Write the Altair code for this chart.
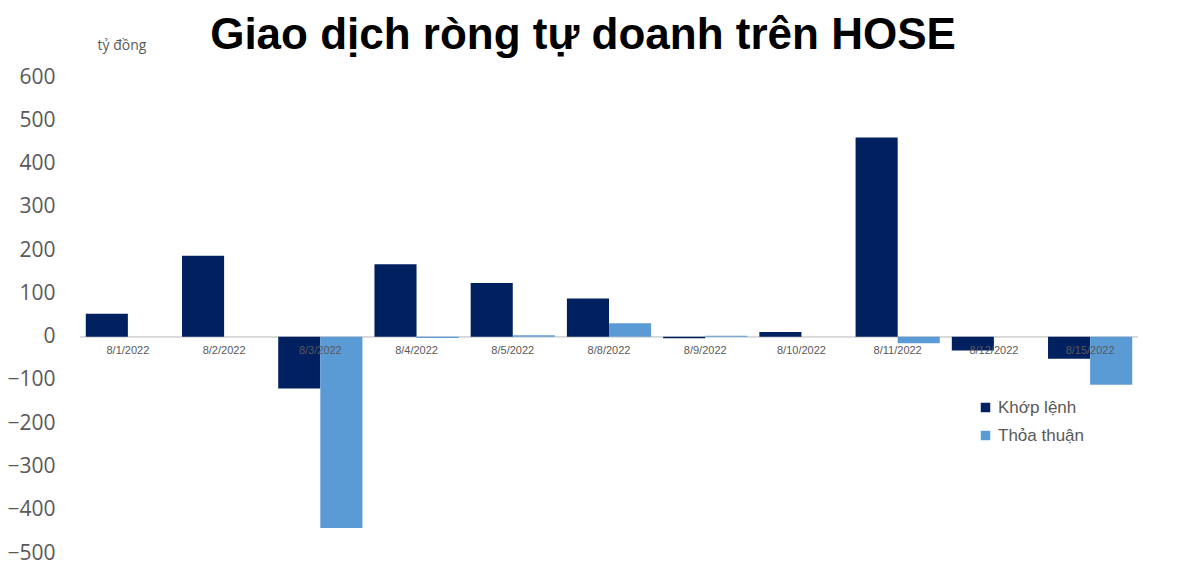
import altair as alt
import pandas as pd

dates = ['8/1/2022', '8/2/2022', '8/3/2022', '8/4/2022', '8/5/2022', '8/8/2022',
         '8/9/2022', '8/10/2022', '8/11/2022', '8/12/2022', '8/15/2022']
khop_lenh = [53, 187, -120, 167, 124, 88, -4, 11, 460, -32, -51]
thoa_thuan = [0, 0, -442, -3, 3, 31, 2, 0, -15, 0, -111]

series = ['Khớp lệnh', 'Thỏa thuận']
colors = ['#002060', '#5b9bd5']

rows = []
for d, k, t in zip(dates, khop_lenh, thoa_thuan):
    rows.append({'date': d, 'series': series[0], 'value': k})
    rows.append({'date': d, 'series': series[1], 'value': t})
df = pd.DataFrame(rows)
labels = pd.DataFrame({'date': dates})

x = alt.X('date:N', sort=dates, title=None, axis=None,
          scale=alt.Scale(paddingInner=0.125, paddingOuter=0.06))

bars = alt.Chart(df).mark_bar().encode(
    x=x,
    xOffset=alt.XOffset('series:N', sort=series),
    y=alt.Y('value:Q', scale=alt.Scale(domain=[-500, 600], nice=False),
            axis=alt.Axis(values=list(range(-500, 700, 100)), title='tỷ đồng',
                          titleAngle=0, titleAlign='left', titleBaseline='middle',
                          titleX=17, titleY=-32, titleFont='Open Sans', titleFontSize=14,
                          titleFontWeight='normal', titleColor='#595959',
                          labelFont='Open Sans', labelFontSize=21, labelColor='#595959',
                          labelPadding=25, ticks=False, domain=False,
                          gridColor='#d9d9d9', gridDash=[3, 2])),
    color=alt.Color('series:N', sort=series,
                    scale=alt.Scale(domain=series, range=colors),
                    legend=alt.Legend(title=None, orient='none', legendX=897, legendY=322,
                                      symbolType='square', symbolSize=90,
                                      labelFont='Liberation Sans', labelFontSize=17,
                                      labelColor='#595959', rowPadding=10))
)

zero = alt.Chart(labels).mark_rule(color='#d9d9d9', strokeWidth=1).encode(
    y=alt.datum(0)
)

text = alt.Chart(labels).mark_text(dy=14, fontSize=11, font='Liberation Sans',
                                   color='#595959').encode(
    x=x,
    y=alt.datum(0),
    text='date:N'
)

chart = alt.layer(zero, bars, text).properties(
    width=1058, height=476,
    padding={'left': 72, 'top': 69, 'right': 20, 'bottom': 20},
    autosize='none',
    title=alt.TitleParams('Giao dịch ròng tự doanh trên HOSE', font='Liberation Sans',
                          fontSize=44, fontWeight='bold', color='#000000',
                          anchor='middle', frame='group', dx=-26, dy=24)
).configure_view(stroke=None)

chart.save("out.html", embed_options={"renderer": "svg", "actions": False})
